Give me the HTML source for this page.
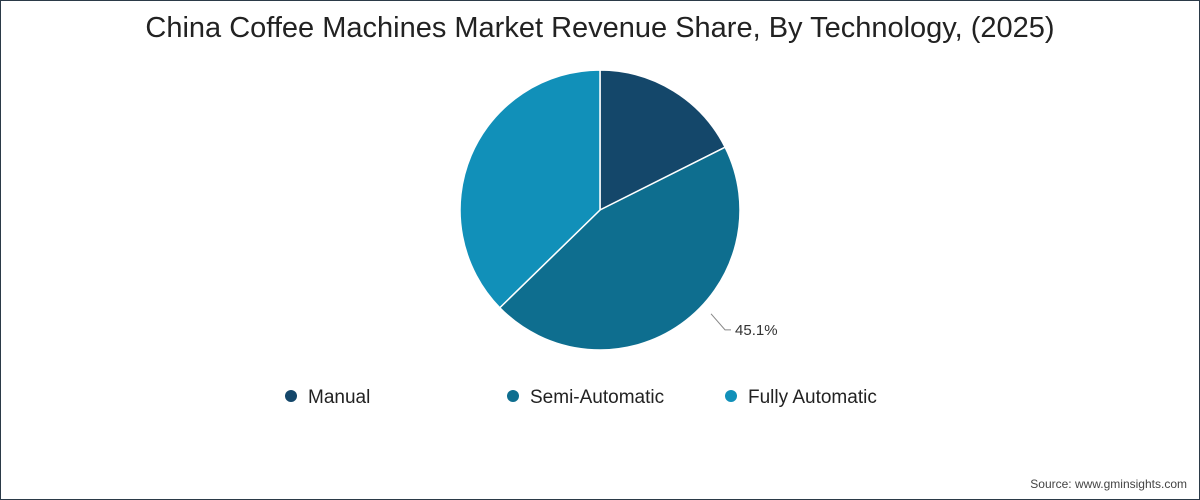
<!DOCTYPE html>
<html><head><meta charset="utf-8"><style>
html,body{margin:0;padding:0;background:#fff;}
#wrap{position:relative;width:1198px;height:498px;border:1px solid #2b3a48;overflow:hidden;font-family:"Liberation Sans","DejaVu Sans",sans-serif;}
#title{position:absolute;top:11px;left:0;width:100%;text-align:center;font-size:29px;color:#222;}
#source{position:absolute;right:12px;bottom:8px;font-size:12px;color:#444;}
svg{position:absolute;left:0;top:0;}
</style></head><body>
<div id="wrap">
<div id="title">China Coffee Machines Market Revenue Share, By Technology, (2025)</div>
<svg id="chart" width="1198" height="498"></svg>
<div id="source">Source: www.gminsights.com</div>
</div>
<script>
const categories=["Manual","Semi-Automatic","Fully Automatic"];
const values=[17.6,45.1,37.3];
const colors=["#14476a","#0e6e8f","#1190b9"];
const labelShown=[false,true,false];
const ns="http://www.w3.org/2000/svg";
const svg=document.getElementById("chart");
const cx=599,cy=209,r=140;
const total=values.reduce((a,b)=>a+b,0);
function pt(a,rr){return [cx+rr*Math.sin(a),cy-rr*Math.cos(a)];}
let a0=0;
values.forEach((v,i)=>{
  const a1=a0+v/total*2*Math.PI;
  const p0=pt(a0,r),p1=pt(a1,r);
  const large=(a1-a0)>Math.PI?1:0;
  const path=document.createElementNS(ns,"path");
  path.setAttribute("d",`M${cx},${cy}L${p0[0]},${p0[1]}A${r},${r} 0 ${large} 1 ${p1[0]},${p1[1]}Z`);
  path.setAttribute("fill",colors[i]);
  path.setAttribute("stroke","#fff");
  path.setAttribute("stroke-width","1.5");
  
  
  svg.appendChild(path);
  if(labelShown[i]){
    const am=(a0+a1)/2-0.2;
    const q0=pt(am,r+12);
    const q1=[q0[0]+14,q0[1]+16];
    const line=document.createElementNS(ns,"path");
    line.setAttribute("d",`M${q0[0]},${q0[1]}L${q1[0]},${q1[1]}L${q1[0]+6},${q1[1]}`);
    line.setAttribute("fill","none");line.setAttribute("stroke","#888");
    
    
    svg.appendChild(line);
    const t=document.createElementNS(ns,"text");
    t.setAttribute("x",q1[0]+10);t.setAttribute("y",q1[1]+5);
    t.setAttribute("font-size","15");t.setAttribute("fill","#333");
    t.setAttribute("font-family","Liberation Sans, sans-serif");
    t.textContent=v.toFixed(1)+"%";
    
    
    svg.appendChild(t);
  }
  a0=a1;
});
const legX=[290,512,730];
categories.forEach((c,i)=>{
  const g=document.createElementNS(ns,"g");
  
  
  const dot=document.createElementNS(ns,"circle");
  dot.setAttribute("cx",legX[i]);dot.setAttribute("cy",395);dot.setAttribute("r",6);
  dot.setAttribute("fill",colors[i]);
  
  
  g.appendChild(dot);
  const t=document.createElementNS(ns,"text");
  t.setAttribute("x",legX[i]+17);t.setAttribute("y",402);
  t.setAttribute("font-size","19");t.setAttribute("fill","#222");
  t.setAttribute("font-family","Liberation Sans, sans-serif");
  t.textContent=c;
  
  
  g.appendChild(t);
  svg.appendChild(g);
});
</script>
</body></html>
